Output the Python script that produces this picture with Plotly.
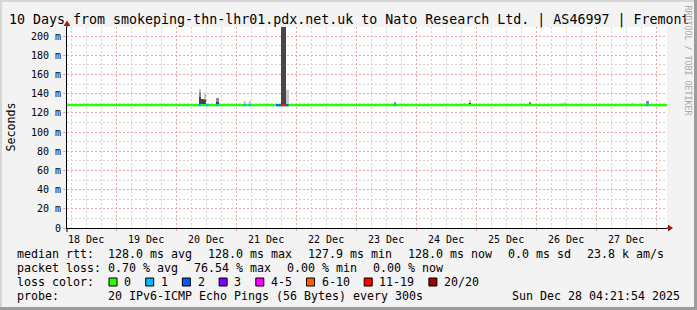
import plotly.graph_objects as go
import pandas as pd

# ---------------- data ----------------
title_text = "10 Days from smokeping-thn-lhr01.pdx.net.uk to Nato Research Ltd. | AS46997 | Fremont"
t_start = "2025-12-18 04:21:54"
t_end = "2025-12-28 04:21:54"
median_ms = 128.0

# hourly bins that carry smoke (RTT spread above the median), values in ms
smoke_hour = ["2025-12-20 09:00", "2025-12-20 10:00", "2025-12-20 11:00", "2025-12-20 16:00",
              "2025-12-21 03:00", "2025-12-21 05:00", "2025-12-21 18:00", "2025-12-21 19:00",
              "2025-12-21 20:00", "2025-12-23 15:00", "2025-12-24 19:00", "2025-12-24 21:00",
              "2025-12-25 21:00", "2025-12-26 10:00", "2025-12-26 11:00", "2025-12-27 14:00",
              "2025-12-27 20:00"]
smoke_dark = [137, 134, 133.5, 131, 128, 128, 230, 230, 128, 128, 128, 130, 128, 128, 128, 128, 128]
smoke_mid = [141.5, 134, 134, 135.7, 128, 128, 230, 230, 128, 131, 128, 130, 131, 128, 128, 128, 132]
smoke_light = [145, 134, 141, 135.7, 132, 132, 230, 230, 143.7, 131, 130, 133, 131, 130, 131, 130.5, 132]

# hourly bins with packet loss, level = index into loss_labels
loss_hour = ["2025-12-20 09:00", "2025-12-20 12:00", "2025-12-20 16:00", "2025-12-21 03:00",
             "2025-12-21 05:00", "2025-12-21 16:00", "2025-12-21 17:00", "2025-12-21 18:00",
             "2025-12-21 19:00", "2025-12-21 20:00", "2025-12-23 15:00", "2025-12-27 20:00"]
loss_level = [1, 1, 1, 1, 1, 2, 2, 6, 6, 2, 1, 1]

loss_labels = ["0", "1", "2", "3", "4-5", "6-10", "11-19", "20/20"]
loss_colors = ["#26ff00", "#00b8ff", "#0059ff", "#7e00ff", "#ff00ff", "#ff5e00", "#ff0000", "#a10000"]

y_tick_vals = [0, 20, 40, 60, 80, 100, 120, 140, 160, 180, 200]
y_tick_text = ["0", "20 m", "40 m", "60 m", "80 m", "100 m", "120 m", "140 m", "160 m", "180 m", "200 m"]

row1 = ["median rtt:  128.0 ms avg", "128.0 ms max", "127.9 ms min", "128.0 ms now", "0.0 ms sd", "23.8 k am/s"]
row2 = ["packet loss: 0.70 % avg", "76.54 % max", "0.00 % min", "0.00 % now"]
row3_label = "loss color:"
probe_label = "probe:"
probe_text = "20 IPv6-ICMP Echo Pings (56 Bytes) every 300s"
stamp_text = "Sun Dec 28 04:21:54 2025"

# ---------------- layout helpers ----------------
W, H = 697, 310
PL, PR, PT, PB = 67, 667, 27, 228
Y_MAX = 209.5
MONO = "DejaVu Sans Mono"
CH = 7.0   # legend char advance
GAP = 16.0


def px(x):
    return (x - PL) / (PR - PL)


def py(y):
    return (PB - y) / (PB - PT)


fig = go.Figure()

hours = pd.to_datetime(smoke_hour)
centers = hours + pd.Timedelta("30min")
width_ms = 3600 * 1000

dark_h = [d - median_ms for d in smoke_dark]
mid_h = [m - d for m, d in zip(smoke_mid, smoke_dark)]
light_h = [l - m for l, m in zip(smoke_light, smoke_mid)]

for base, hgt, col in [([median_ms] * len(smoke_dark), dark_h, "#474747"),
                       (smoke_dark, mid_h, "#8c8c8c"),
                       (smoke_mid, light_h, "#c6c6c6")]:
    fig.add_trace(go.Bar(x=centers, y=hgt, base=base, width=width_ms,
                         marker=dict(color=col, line=dict(width=0)),
                         hoverinfo="skip", showlegend=False))

# median line (green = no loss)
fig.add_trace(go.Scatter(x=[t_start, t_end], y=[median_ms, median_ms], mode="lines",
                         line=dict(color=loss_colors[0], width=2.2), hoverinfo="skip",
                         showlegend=False))

# loss coloured segments
lh = pd.to_datetime(loss_hour)
for lvl in sorted(set(loss_level)):
    xs, ys = [], []
    for t, l in zip(lh, loss_level):
        if l == lvl:
            xs += [t, t + pd.Timedelta("1h"), None]
            ys += [median_ms, median_ms, None]
    fig.add_trace(go.Scatter(x=xs, y=ys, mode="lines",
                             line=dict(color=loss_colors[lvl], width=2.2),
                             hoverinfo="skip", showlegend=False, connectgaps=False))

MGRID = "#e6a8a8"
GRID = "#d2d2d2"

fig.update_xaxes(type="date", range=[t_start, t_end],
                 dtick=86400000, tick0="2025-12-19", tickformat="%d %b",
                 ticklabelmode="period",
                 showgrid=True, gridcolor=MGRID, griddash="2px,2px", gridwidth=1,
                 minor=dict(dtick=6 * 3600000, tick0="2025-12-19", showgrid=True,
                            gridcolor=GRID, griddash="2px,2px", gridwidth=1),
                 showline=True, linecolor="#000000", linewidth=1,
                 ticks="outside", ticklen=2, tickcolor=MGRID,
                 tickfont=dict(family=MONO, size=10, color="#000000"),
                 zeroline=False, fixedrange=True)

fig.update_yaxes(range=[0, Y_MAX], tickmode="array", tickvals=y_tick_vals, ticktext=y_tick_text,
                 showgrid=True, gridcolor=MGRID, griddash="2px,2px", gridwidth=1,
                 minor=dict(dtick=10, tick0=0, showgrid=True, gridcolor=GRID,
                            griddash="2px,2px", gridwidth=1),
                 showline=True, linecolor="#000000", linewidth=1,
                 ticks="outside", ticklen=3, tickcolor=MGRID,
                 tickfont=dict(family=MONO, size=10, color="#000000"),
                 zeroline=False, fixedrange=True)

shapes = []
annotations = []

# axis extensions and arrows
ARROW = "#a01a1a"
shapes.append(dict(type="line", xref="paper", yref="paper", x0=px(PR), x1=px(669), y0=py(PB), y1=py(PB),
                   line=dict(color="#000000", width=1)))
shapes.append(dict(type="path", xref="paper", yref="paper",
                   path=f"M {px(668)} {py(224.5)} L {px(673)} {py(228)} L {px(668)} {py(231.5)} Z",
                   fillcolor=ARROW, line=dict(color=ARROW, width=0)))
shapes.append(dict(type="line", xref="paper", yref="paper", x0=px(PL), x1=px(PL), y0=py(232), y1=py(PB),
                   line=dict(color="#000000", width=1)))
shapes.append(dict(type="line", xref="paper", yref="paper", x0=px(PL), x1=px(PL), y0=py(PT), y1=py(24),
                   line=dict(color="#000000", width=1)))
shapes.append(dict(type="path", xref="paper", yref="paper",
                   path=f"M {px(63.5)} {py(26)} L {px(PL)} {py(20.5)} L {px(70.5)} {py(26)} Z",
                   fillcolor=ARROW, line=dict(color=ARROW, width=0)))

# frame
shapes.append(dict(type="rect", xref="paper", yref="paper", x0=px(0), x1=px(W), y0=py(0), y1=py(2),
                   fillcolor="#d6d6d6", line=dict(width=0), layer="above"))
shapes.append(dict(type="rect", xref="paper", yref="paper", x0=px(0), x1=px(2), y0=py(0), y1=py(H),
                   fillcolor="#d6d6d6", line=dict(width=0), layer="above"))
shapes.append(dict(type="rect", xref="paper", yref="paper", x0=px(694), x1=px(W), y0=py(0), y1=py(H),
                   fillcolor="#9c9c9c", line=dict(width=0), layer="above"))
shapes.append(dict(type="rect", xref="paper", yref="paper", x0=px(0), x1=px(W), y0=py(307), y1=py(H),
                   fillcolor="#9c9c9c", line=dict(width=0), layer="above"))


def txt(x, y, s, size=11.63, anchor="left", color="#000000", angle=0, yanchor="middle"):
    annotations.append(dict(x=px(x), y=py(y), xref="paper", yref="paper", text=s, showarrow=False,
                            xanchor=anchor, yanchor=yanchor, textangle=angle, borderpad=0,
                            font=dict(family=MONO, size=size, color=color)))


txt(8, 19.5, title_text, size=13.3)
txt(10, 127.5, "Seconds", size=11.63, anchor="center", angle=-90)
txt(687.5, 60, "RRDTOOL / TOBI OETIKER", size=8.3, anchor="center", color="#a8a8a8", angle=90)

ROWS = [254, 268, 282, 296]
x = 16.0
for s in row1:
    txt(x, ROWS[0], s)
    x += len(s) * CH + GAP
x = 16.0
for s in row2:
    txt(x, ROWS[1], s)
    x += len(s) * CH + GAP

txt(16, ROWS[2], row3_label)
x = 16.0 + len(row3_label) * CH + GAP
for lab, col in zip(loss_labels, loss_colors):
    shapes.append(dict(type="rect", xref="paper", yref="paper", x0=px(x), x1=px(x + 8),
                       y0=py(ROWS[2] - 4), y1=py(ROWS[2] + 4), fillcolor=col,
                       line=dict(color="#000000", width=1)))
    txt(x + 14.3, ROWS[2], lab)
    x += 29.7 + len(lab) * CH

txt(16, ROWS[3], probe_label)
txt(107.3, ROWS[3], probe_text)
txt(680.5, ROWS[3], stamp_text, anchor="right")

fig.update_layout(width=W, height=H, margin=dict(l=PL, r=W - PR, t=PT, b=H - PB),
                  paper_bgcolor="#f3f3f3", plot_bgcolor="#ffffff",
                  barmode="overlay", bargap=0, showlegend=False,
                  shapes=shapes, annotations=annotations,
                  font=dict(family=MONO, color="#000000"))

fig.write_html("out.html", config={"displayModeBar": False})
